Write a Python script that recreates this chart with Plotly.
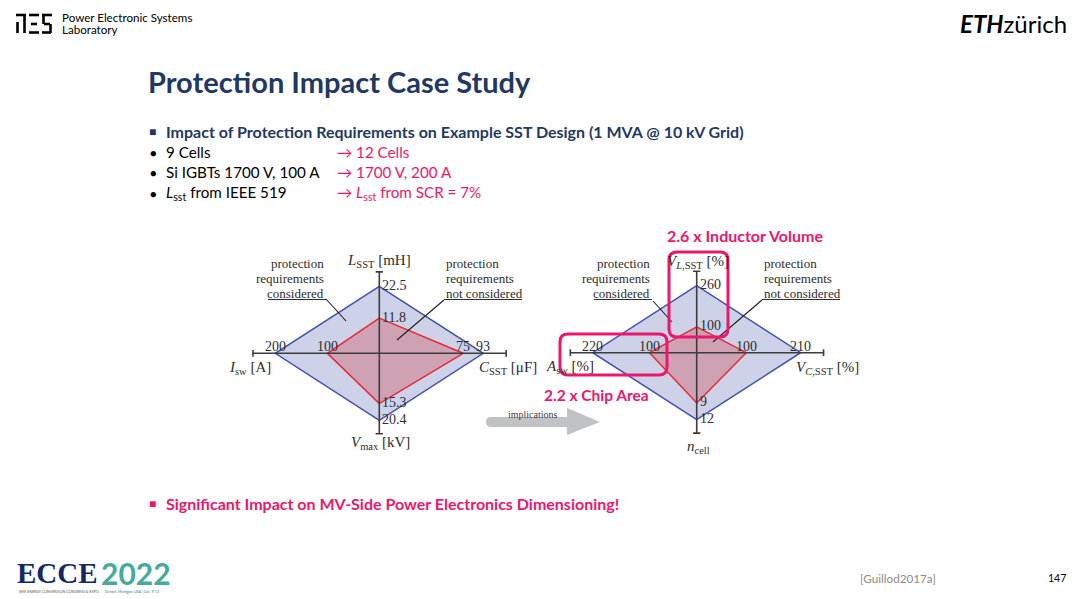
import plotly.graph_objects as go

W, H = 1080, 599

# radar axes, order: top, right, bottom, left
left_titles = ["<i>L</i><sub>SST</sub> [mH]", "<i>C</i><sub>SST</sub> [μF]",
               "<i>V</i><sub>max</sub> [kV]", "<i>I</i><sub>sw</sub> [A]"]
left_considered = [22.5, 93, 20.4, 200]
left_not_considered = [11.8, 75, 15.3, 100]

right_titles = ["<i>V</i><sub><i>L</i>,SST</sub> [%]", "<i>V</i><sub><i>C</i>,SST</sub> [%]",
                "<i>n</i><sub>cell</sub>", "<i>A</i><sub>sw</sub> [%]"]
right_considered = [260, 210, 12, 220]
right_not_considered = [100, 100, 9, 100]

bullets_left = ["9 Cells", "Si IGBTs 1700 V, 100 A", "<i>L</i><sub>sst</sub> from IEEE 519"]
bullets_right = ["→ 12 Cells", "→ 1700 V, 200 A", "→ <i>L</i><sub>sst</sub> from SCR = 7%"]

DIRS = [(0, 1), (1, 0), (0, -1), (-1, 0)]
NAVY = "rgb(31,56,100)"
PINK = "rgb(236,22,108)"
SANS = "Lato"
SERIF = "Liberation Serif"
INK = "rgb(45,45,45)"


def px(x, y):
    return x / W, 1 - y / H


def diamond(values, maxima):
    xs = [d[0] * v / m for d, v, m in zip(DIRS, values, maxima)]
    ys = [d[1] * v / m for d, v, m in zip(DIRS, values, maxima)]
    return xs + xs[:1], ys + ys[:1]


fig = go.Figure()
annotations = []
shapes = []

for i, (cons, notc) in enumerate([(left_considered, left_not_considered),
                                  (right_considered, right_not_considered)]):
    xa = "x" if i == 0 else "x2"
    ya = "y" if i == 0 else "y2"
    bx, by = diamond(cons, cons)
    rx, ry = diamond(notc, cons)
    fig.add_trace(go.Scatter(x=bx, y=by, xaxis=xa, yaxis=ya, mode="lines", fill="toself",
                             fillcolor="rgb(205,210,232)", line=dict(color="rgb(70,80,175)", width=1.5),
                             showlegend=False, hoverinfo="skip"))
    fig.add_trace(go.Scatter(x=rx, y=ry, xaxis=xa, yaxis=ya, mode="lines", fill="toself",
                             fillcolor="rgb(206,162,178)", line=dict(color="rgb(232,40,55)", width=1.5),
                             showlegend=False, hoverinfo="skip"))
    # axis cross with end ticks
    for (x0, y0, x1, y1) in [(-1.215, 0, 1.22, 0), (0, -1.2, 0, 1.215),
                             (-1.215, -0.05, -1.215, 0.05), (1.22, -0.05, 1.22, 0.05),
                             (-0.035, 1.215, 0.035, 1.215), (-0.035, -1.2, 0.035, -1.2)]:
        shapes.append(dict(type="line", xref=xa, yref=ya, x0=x0, y0=y0, x1=x1, y1=y1,
                           line=dict(color="rgb(60,60,60)", width=1.6), layer="above"))
    # tick labels at the vertices
    for vals in (cons, notc):
        xs, ys = diamond(vals, cons)
        for k, v in enumerate(vals):
            if DIRS[k][1] == 0:
                annotations.append(dict(x=xs[k], y=0, xref=xa, yref=ya, text=f"{v:g}",
                                        showarrow=False, xanchor="center", yanchor="bottom",
                                        yshift=-3, font=dict(family=SERIF, size=14, color=INK)))
            else:
                annotations.append(dict(x=0, y=ys[k], xref=xa, yref=ya, text=f"{v:g}",
                                        showarrow=False, xanchor="left", yanchor="middle",
                                        xshift=1, yshift=1, font=dict(family=SERIF, size=14, color=INK)))

# axis titles
title_pos = [
    [(379, 261, "center"), (477, 368, "left"), (380, 443, "center"), (273, 368, "right")],
    [(698, 262, "center"), (794, 368, "left"), (698, 447, "center"), (596, 367, "right")],
]
for titles, poss in [(left_titles, title_pos[0]), (right_titles, title_pos[1])]:
    for t, (x, y, anc) in zip(titles, poss):
        xx, yy = px(x, y)
        annotations.append(dict(x=xx, y=yy, xref="paper", yref="paper", text=t, showarrow=False,
                                xanchor=anc, yanchor="middle",
                                font=dict(family=SERIF, size=15, color=INK)))

# "protection requirements" notes with underlines and leaders
notes = [
    (326, "right", (268, 326), (326, 299, 346, 321)),
    (444, "left", (444, 522), (444, 300, 397, 340)),
    (652, "right", (594, 652), (653, 301, 672, 322)),
    (762, "left", (762, 840), (762, 300, 713, 342)),
]
for x, anc, (u0, u1), (l0x, l0y, l1x, l1y) in notes:
    is_left = anc == "right"
    last = "considered" if is_left else "not considered"
    for j, line in enumerate(["protection", "requirements", last]):
        xx, yy = px(x, 263 + 15.3 * j)
        annotations.append(dict(x=xx, y=yy, xref="paper", yref="paper", text=line, showarrow=False,
                                xanchor=anc, yanchor="middle",
                                font=dict(family=SERIF, size=13, color=INK)))
    a, b = px(u0, 299.5)
    c, d = px(u1, 299.5)
    shapes.append(dict(type="line", xref="paper", yref="paper", x0=a, y0=b, x1=c, y1=d,
                       line=dict(color=INK, width=1)))
    a, b = px(l0x, l0y)
    c, d = px(l1x, l1y)
    shapes.append(dict(type="line", xref="paper", yref="paper", x0=a, y0=b, x1=c, y1=d,
                       line=dict(color="rgb(30,30,30)", width=1.1), layer="above"))


def rounded(x0, y0, x1, y1, r):
    def p(x, y):
        a, b = px(x, y)
        return f"{a:.5f},{b:.5f}"
    return (f"M{p(x0 + r, y0)} L{p(x1 - r, y0)} Q{p(x1, y0)} {p(x1, y0 + r)} "
            f"L{p(x1, y1 - r)} Q{p(x1, y1)} {p(x1 - r, y1)} L{p(x0 + r, y1)} "
            f"Q{p(x0, y1)} {p(x0, y1 - r)} L{p(x0, y0 + r)} Q{p(x0, y0)} {p(x0 + r, y0)} Z")


for box in [(669, 252, 728, 337), (560, 334, 667, 375)]:
    shapes.append(dict(type="path", xref="paper", yref="paper", path=rounded(*box, 8),
                       line=dict(color=PINK, width=3), layer="above"))

for t, x, y, s in [("2.6 x Inductor Volume", 745, 235, 16), ("2.2 x Chip Area", 596, 395, 15.5)]:
    xx, yy = px(x, y)
    annotations.append(dict(x=xx, y=yy, xref="paper", yref="paper", text=f"<b>{t}</b>",
                            showarrow=False, xanchor="center", yanchor="middle",
                            font=dict(family=SANS, size=s, color=PINK)))


# implications arrow
def pp(x, y):
    a, b = px(x, y)
    return f"{a:.5f},{b:.5f}"


arrow = (f"M{pp(491, 417)} L{pp(567, 417)} L{pp(567, 408)} L{pp(600, 422)} L{pp(567, 435)} "
         f"L{pp(567, 427)} L{pp(491, 427)} Q{pp(486, 427)} {pp(486, 422)} Q{pp(486, 417)} {pp(491, 417)} Z")
shapes.append(dict(type="path", xref="paper", yref="paper", path=arrow,
                   fillcolor="rgb(192,194,196)", line=dict(width=0)))
xx, yy = px(533, 422)
annotations.append(dict(x=xx, y=yy, xref="paper", yref="paper", text="implications", showarrow=False,
                        font=dict(family=SERIF, size=10, color="rgb(60,60,60)")))


# slide texts
def txt(x, y, text, size, color="black", anchor="left", family=SANS):
    xx, yy = px(x, y)
    annotations.append(dict(x=xx, y=yy, xref="paper", yref="paper", text=text, showarrow=False,
                            xanchor=anchor, yanchor="middle", font=dict(family=family, size=size, color=color)))


txt(146, 81, "<b>Protection Impact Case Study</b>", 29, NAVY)
txt(147, 131, "■", 12, NAVY)
txt(164, 131, "<b>Impact of Protection Requirements on Example SST Design (1 MVA @ 10 kV Grid)</b>", 16, NAVY)
for j, (a, b) in enumerate(zip(bullets_left, bullets_right)):
    y = 152 + 20.5 * j
    txt(148, y, "●", 11)
    txt(164, y, a, 15.2)
    txt(335, y, b, 15.2, PINK)
txt(147, 503, "■", 12, PINK)
txt(164, 503, "<b>Significant Impact on MV-Side Power Electronics Dimensioning!</b>", 16, PINK)
txt(60, 18, "Power Electronic Systems", 11.6)
txt(60, 29, "Laboratory", 11.6)
txt(1069, 24, "<b><i>ETH</i></b>zürich", 24, anchor="right")
txt(938, 578, "[Guillod2017a]", 11.7, "rgb(140,140,140)", anchor="right")
txt(1068, 578, "147", 10.5, anchor="right")
txt(15, 573, "<b>ECCE</b>", 29, "rgb(20,40,100)", family=SERIF)
txt(99, 573, "<b>2022</b>", 30, "rgb(70,170,160)")
txt(17, 591, "IEEE ENERGY CONVERSION CONGRESS &amp; EXPO", 3.6, "rgb(90,90,90)")
txt(103, 591, "Detroit, Michigan, USA | Oct. 9-13", 3.6, "rgb(40,130,130)")

# PES logo strokes
for (x0, y0, x1, y1) in [(16, 15, 26, 15), (24.5, 15, 24.5, 33), (17.5, 22, 17.5, 33),
                         (29, 15, 39, 15), (31, 24, 37, 24), (29, 32.5, 39, 32.5),
                         (42, 15, 52, 15), (43.5, 15, 43.5, 24), (44, 24, 50, 24),
                         (50.5, 24, 50.5, 33), (42, 32.5, 51, 32.5)]:
    a, b = px(x0, y0)
    c, d = px(x1, y1)
    shapes.append(dict(type="line", xref="paper", yref="paper", x0=a, y0=b, x1=c, y1=d,
                       line=dict(color="black", width=2.6)))

ax = dict(range=[-1.3, 1.3], visible=False, fixedrange=True)
fig.update_layout(
    width=W, height=H, margin=dict(l=0, r=0, t=0, b=0),
    paper_bgcolor="white", plot_bgcolor="white", showlegend=False,
    xaxis=dict(ax, domain=[0.22602, 0.47639]),
    yaxis=dict(ax, domain=[0.26477, 0.55559]),
    xaxis2=dict(ax, domain=[0.51991, 0.77028]),
    yaxis2=dict(ax, domain=[0.26578, 0.55659]),
    annotations=annotations, shapes=shapes,
)
fig.write_html("out.html", config={"displayModeBar": False},
               post_script="document.body.style.margin='0px';document.body.style.overflow='hidden';")
